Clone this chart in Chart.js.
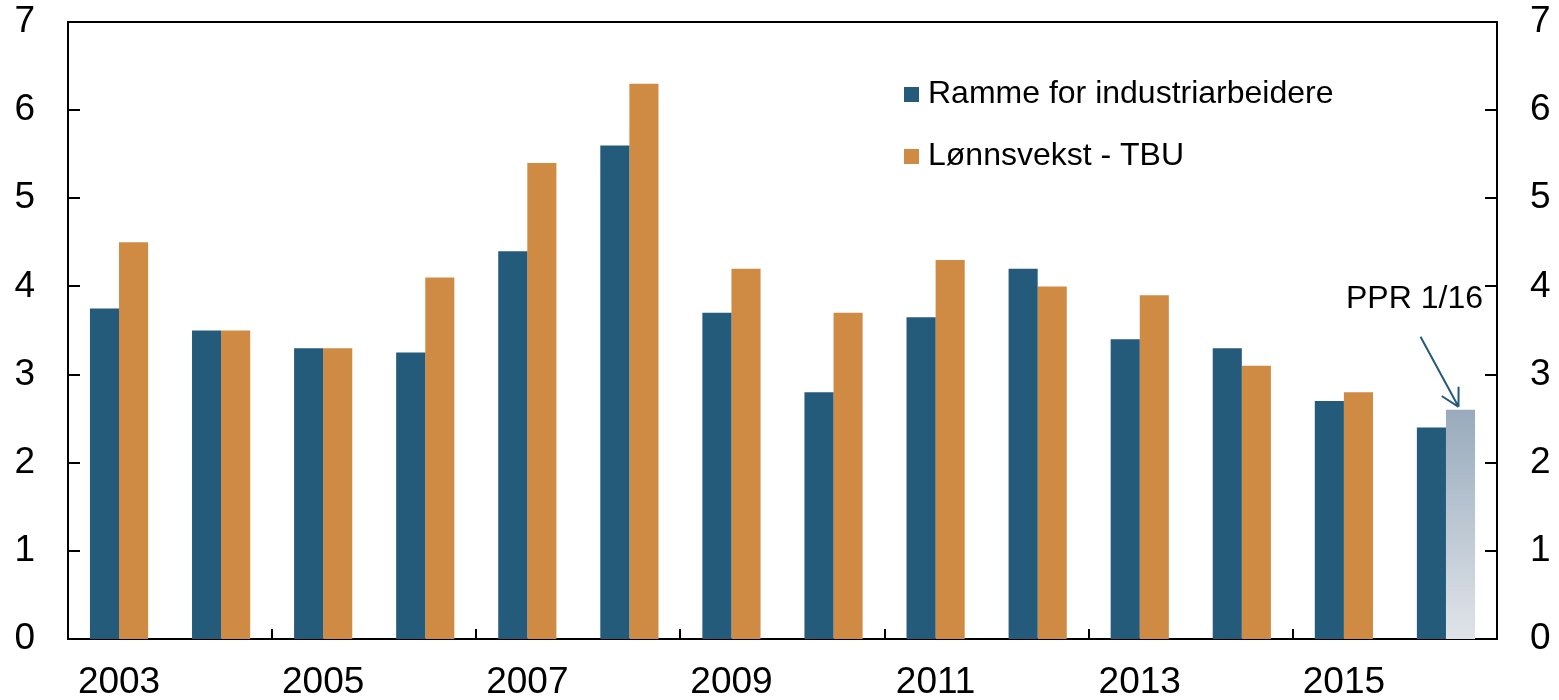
<!DOCTYPE html>
<html>
<head>
<meta charset="utf-8">
<script src="https://cdn.jsdelivr.net/npm/chart.js@4.4.1/dist/chart.umd.min.js"></script>
<style>
html,body{margin:0;padding:0;background:#fff;}
#wrap{width:1559px;height:700px;position:relative;}
</style>
</head>
<body>
<div id="wrap"><canvas id="c" width="1559" height="700"></canvas></div>
<script>
const years = ['2003','2004','2005','2006','2007','2008','2009','2010','2011','2012','2013','2014','2015','2016'];
const ramme = [3.75, 3.5, 3.3, 3.25, 4.4, 5.6, 3.7, 2.8, 3.65, 4.2, 3.4, 3.3, 2.7, 2.4];
const lonnsvekst = [4.5, 3.5, 3.3, 4.1, 5.4, 6.3, 4.2, 3.7, 4.3, 4.0, 3.9, 3.1, 2.8, 2.6];
const seriesNames = ['Ramme for industriarbeidere', 'Lønnsvekst - TBU'];
const yTicks = [0, 1, 2, 3, 4, 5, 6, 7];
const annotationText = 'PPR 1/16';
const projectionIndex = 13;

const BLUE = '#245a7a';
const ORANGE = '#cf8b43';
const FONT = "'Liberation Sans', Arial, sans-serif";

const frame = {
  id: 'frame',
  afterDatasetsDraw(chart) {
    const ctx = chart.ctx;
    const a = chart.chartArea;
    const y = chart.scales.y;
    const x = chart.scales.x;
    ctx.save();
    ctx.strokeStyle = '#000';
    ctx.lineWidth = 2;
    ctx.beginPath();
    ctx.moveTo(a.left, a.top);
    ctx.lineTo(a.right, a.top);
    ctx.stroke();
    yTicks.forEach(v => {
      const py = Math.round(y.getPixelForValue(v));
      ctx.beginPath();
      ctx.moveTo(a.left, py); ctx.lineTo(a.left + 12, py);
      ctx.moveTo(a.right, py); ctx.lineTo(a.right - 12, py);
      ctx.stroke();
    });
    const half = (x.getPixelForValue(1) - x.getPixelForValue(0)) / 2;
    for (let i = 2; i < years.length; i += 2) {
      const px = Math.round(x.getPixelForValue(i) - half);
      ctx.beginPath();
      ctx.moveTo(px, a.bottom); ctx.lineTo(px, a.bottom - 10);
      ctx.stroke();
    }
    const colors = [BLUE, ORANGE];
    const lx = 904, rows = [94, 156];
    ctx.font = '32px ' + FONT;
    ctx.textBaseline = 'middle';
    ctx.textAlign = 'left';
    seriesNames.forEach((n, i) => {
      ctx.fillStyle = colors[i];
      ctx.fillRect(lx, rows[i] - 7, 15, 15);
      ctx.fillStyle = '#000';
      ctx.fillText(n, lx + 24, rows[i]);
    });
    const bar = chart.getDatasetMeta(1).data[projectionIndex];
    const tx = bar.x - 2, ty = bar.y - 3;
    const sx = tx - 38, sy = ty - 70;
    ctx.strokeStyle = BLUE;
    ctx.lineWidth = 2;
    ctx.beginPath();
    ctx.moveTo(sx, sy); ctx.lineTo(tx, ty);
    const ang = Math.atan2(ty - sy, tx - sx);
    const L = 20, spread = 0.5;
    ctx.moveTo(tx, ty);
    ctx.lineTo(tx - L * Math.cos(ang - spread), ty - L * Math.sin(ang - spread));
    ctx.moveTo(tx, ty);
    ctx.lineTo(tx - L * Math.cos(ang + spread), ty - L * Math.sin(ang + spread));
    ctx.stroke();
    ctx.fillStyle = '#000';
    ctx.font = '32px ' + FONT;
    ctx.textAlign = 'center';
    ctx.fillText(annotationText, sx - 6, sy - 38);
    ctx.restore();
  }
};

function projFill(context) {
  if (context.dataIndex !== projectionIndex) return ORANGE;
  const chart = context.chart;
  if (!chart.chartArea) return ORANGE;
  const y = chart.scales.y;
  const g = chart.ctx.createLinearGradient(0, y.getPixelForValue(lonnsvekst[projectionIndex]), 0, y.getPixelForValue(0));
  g.addColorStop(0, '#98aabc');
  g.addColorStop(1, '#e0e4e9');
  return g;
}

new Chart(document.getElementById('c'), {
  type: 'bar',
  data: {
    labels: years,
    datasets: [
      { label: seriesNames[0], data: ramme, backgroundColor: BLUE, yAxisID: 'y' },
      { label: seriesNames[1], data: lonnsvekst, backgroundColor: projFill, yAxisID: 'y' }
    ]
  },
  options: {
    responsive: false,
    animation: false,
    events: [],
    layout: { padding: { top: 0, left: 0, right: 0, bottom: 0 } },
    datasets: { bar: { categoryPercentage: 0.57, barPercentage: 1.0 } },
    plugins: { legend: { display: false }, tooltip: { enabled: false } },
    scales: {
      x: {
        grid: { display: false, drawTicks: false },
        border: { display: true, color: '#000', width: 2 },
        ticks: {
          autoSkip: false, maxRotation: 0, padding: 22, color: '#000',
          font: { family: FONT, size: 37 },
          callback: function(v, i) { return (i % 2 === 0) ? years[i] : ''; }
        },
        afterFit(s) { s.height = 61; }
      },
      y: {
        position: 'left', min: 0, max: 7,
        grid: { display: false, drawTicks: false },
        border: { display: true, color: '#000', width: 2 },
        ticks: { stepSize: 1, padding: 33, color: '#000', font: { family: FONT, size: 37 } },
        afterFit(s) { s.width = 68; s.paddingTop = 22; }
      },
      y2: {
        position: 'right', min: 0, max: 7,
        grid: { display: false, drawTicks: false },
        border: { display: true, color: '#000', width: 2 },
        ticks: { stepSize: 1, padding: 33, color: '#000', font: { family: FONT, size: 37 } },
        afterFit(s) { s.width = 62; s.paddingTop = 22; }
      }
    }
  },
  plugins: [frame]
});
</script>
</body>
</html>
